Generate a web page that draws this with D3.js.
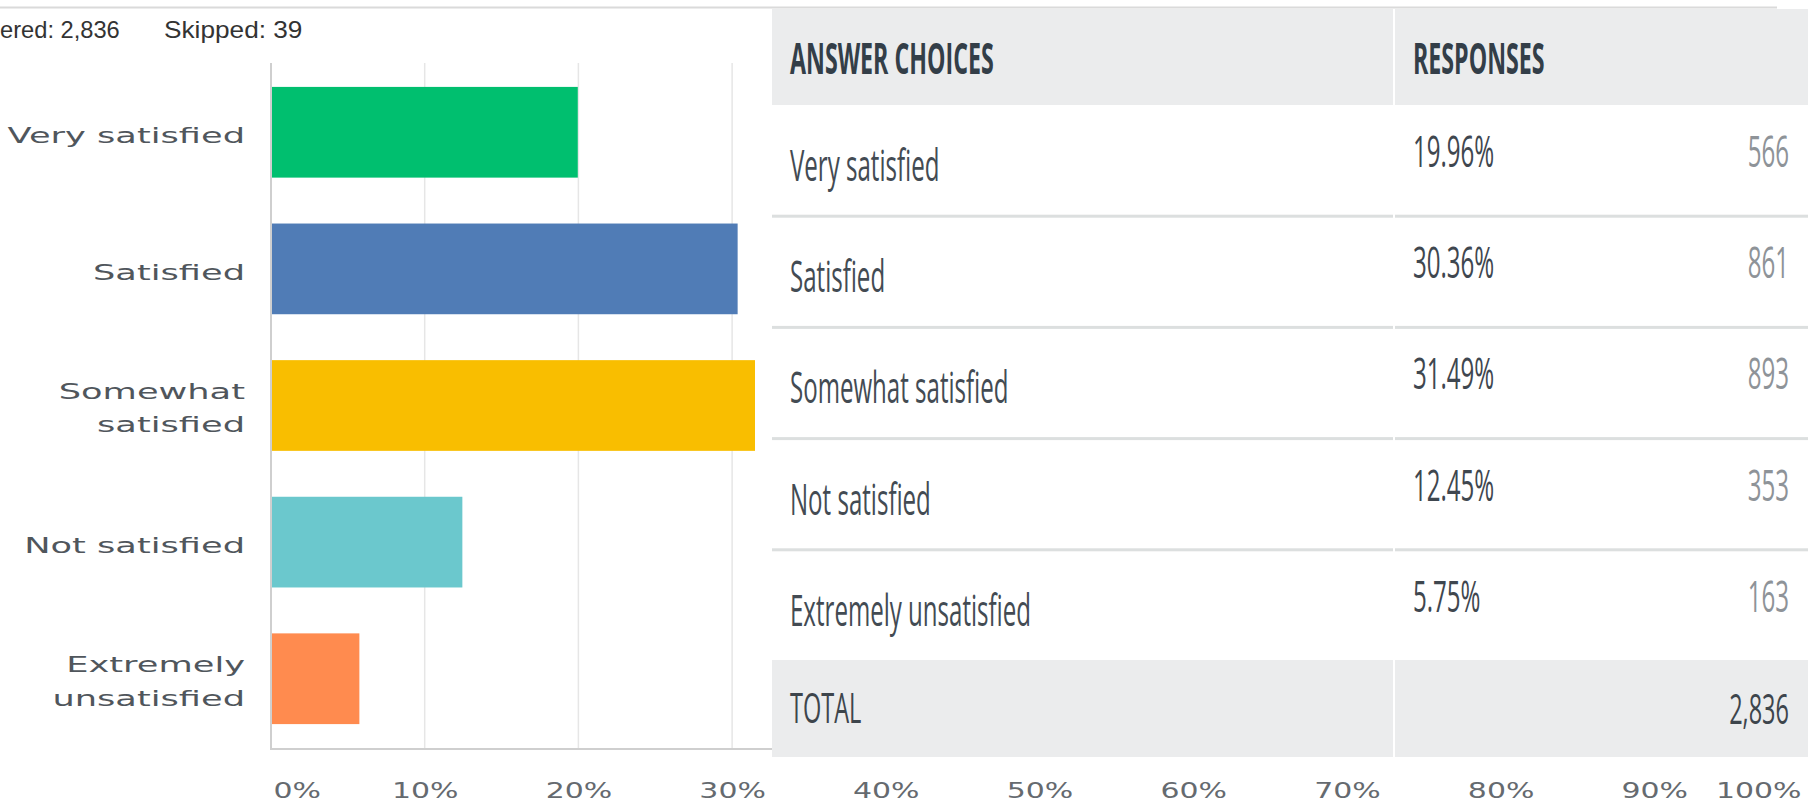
<!DOCTYPE html>
<html>
<head>
<meta charset="utf-8">
<script src="https://cdn.jsdelivr.net/npm/d3@7"></script>
<style>
  html, body { margin: 0; padding: 0; background: #ffffff; overflow: hidden; }
  svg { display: block; }
</style>
</head>
<body>
<svg id="chart" width="1808" height="804"></svg>
<script>
// ---- data ----
const categories = ["Very satisfied", "Satisfied", "Somewhat satisfied", "Not satisfied", "Extremely unsatisfied"];
const categoryLines = [["Very satisfied"], ["Satisfied"], ["Somewhat", "satisfied"], ["Not satisfied"], ["Extremely", "unsatisfied"]];
const percents = [19.96, 30.36, 31.49, 12.45, 5.75];
const counts = [566, 861, 893, 353, 163];
const barColors = ["#00bf6f", "#507cb6", "#f9be00", "#6bc8cd", "#ff8b4f"];
const xTicks = [0, 10, 20, 30, 40, 50, 60, 70, 80, 90, 100];
const answeredText = "ered: 2,836";
const skippedText = "Skipped: 39";
const tableHeaders = ["ANSWER CHOICES", "RESPONSES"];
const totalLabel = "TOTAL";
const totalValue = 2836;

// ---- layout ----
const svg = d3.select("#chart");
const plot = { left: 271, right: 1808, top: 63, bottom: 749 };

const x = d3.scaleLinear().domain([0, 100]).range([plot.left, plot.right]);
const y = d3.scaleBand().domain(categories).range([plot.top, plot.bottom - 1])
  .paddingInner(0.336).paddingOuter(0.175);

// top rule
svg.append("line").attr("x1", 0).attr("x2", 1777).attr("y1", 7.5).attr("y2", 7.5)
  .attr("stroke", "#dadada").attr("stroke-width", 2);

// header texts
const hdr = svg.append("g").attr("font-family", "'Liberation Sans', Arial, sans-serif")
  .attr("font-size", 23).attr("fill", "#333333");
hdr.append("text").attr("transform", "translate(0,38) scale(1.03,1)").text(answeredText);
hdr.append("text").attr("transform", "translate(164,38) scale(1.14,1)").text(skippedText);

// gridlines
svg.append("g").selectAll("line").data(xTicks.filter(d => d > 0)).join("line")
  .attr("x1", d => x(d)).attr("x2", d => x(d))
  .attr("y1", plot.top).attr("y2", plot.bottom)
  .attr("stroke", "#e6e6e6").attr("stroke-width", 1.5);

// bars
svg.append("g").selectAll("rect").data(categories).join("rect")
  .attr("x", x(0))
  .attr("y", d => y(d))
  .attr("width", (d, i) => x(percents[i]) - x(0))
  .attr("height", y.bandwidth())
  .attr("fill", (d, i) => barColors[i]);

// axes lines
svg.append("line").attr("x1", plot.left).attr("x2", plot.left)
  .attr("y1", plot.top).attr("y2", plot.bottom + 1)
  .attr("stroke", "#cfcfcf").attr("stroke-width", 2);
svg.append("line").attr("x1", plot.left).attr("x2", plot.right)
  .attr("y1", plot.bottom).attr("y2", plot.bottom)
  .attr("stroke", "#cfcfcf").attr("stroke-width", 2);

// category labels
const catG = svg.append("g").attr("font-family", "'DejaVu Sans', sans-serif")
  .attr("font-size", 22).attr("fill", "#50565c");
categories.forEach((c, i) => {
  const cy = y(c) + y.bandwidth() / 2;
  const lines = categoryLines[i];
  const t = catG.append("text")
    .attr("transform", `translate(245,${cy}) scale(1.6,1)`)
    .attr("text-anchor", "end");
  if (lines.length === 1) {
    t.append("tspan").attr("x", 0).attr("y", 11).text(lines[0]);
  } else {
    t.append("tspan").attr("x", 0).attr("y", -7).text(lines[0]);
    t.append("tspan").attr("x", 0).attr("y", 27).text(lines[1]);
  }
});

// x tick labels via axis
const xAxis = d3.axisBottom(x).tickValues(xTicks).tickFormat(d => d + "%").tickSize(0);
const axG = svg.append("g").attr("transform", `translate(0,${plot.bottom})`).call(xAxis);
axG.select(".domain").remove();
axG.selectAll(".tick text")
  .attr("font-family", "'DejaVu Sans', sans-serif")
  .attr("font-size", 22)
  .attr("fill", "#656a6f")
  .attr("dy", null)
  .attr("y", 0)
  .attr("transform", "translate(0,49) scale(1.36,1)")
  .attr("text-anchor", d => d === 0 ? "start" : (d === 100 ? "end" : "middle"))
  .attr("x", d => d === 0 ? 2 / 1.36 : (d === 100 ? -7 / 1.36 : 0));

// ---- table overlay ----
const tb = { left: 772, right: 1808, top: 9, headerBottom: 105, rowH: 111.2, totalTop: 660, bottom: 757, colX: 1394 };
const tg = svg.append("g");
tg.append("rect").attr("x", tb.left).attr("y", tb.top).attr("width", tb.right - tb.left)
  .attr("height", tb.bottom - tb.top).attr("fill", "#ffffff");
tg.append("rect").attr("x", tb.left).attr("y", tb.top).attr("width", tb.right - tb.left)
  .attr("height", tb.headerBottom - tb.top).attr("fill", "#ebeced");
tg.append("rect").attr("x", tb.left).attr("y", tb.totalTop).attr("width", tb.right - tb.left)
  .attr("height", tb.bottom - tb.totalTop).attr("fill", "#ebeced");
[[tb.top, tb.headerBottom], [tb.totalTop, tb.bottom]].forEach(([a, b]) => {
  tg.append("line").attr("x1", tb.colX).attr("x2", tb.colX).attr("y1", a).attr("y2", b)
    .attr("stroke", "#ffffff").attr("stroke-width", 2);
});

const rowTop = i => tb.headerBottom + i * tb.rowH;
d3.range(1, categories.length).forEach(i => {
  const yy = rowTop(i);
  tg.append("rect").attr("x", tb.left).attr("y", yy - 1.5).attr("width", tb.colX - 1 - tb.left)
    .attr("height", 3).attr("fill", "#dcdfdf");
  tg.append("rect").attr("x", tb.colX + 1).attr("y", yy - 1.5).attr("width", tb.right - tb.colX - 1)
    .attr("height", 3).attr("fill", "#dcdfdf");
});

const tf = "'Open Sans', 'Noto Sans', sans-serif";
tg.selectAll("text.hdr").data(tableHeaders).join("text").attr("class", "hdr")
  .attr("transform", (d, i) => `translate(${i === 0 ? 790 : 1413},74) scale(0.54,1)`)
  .attr("font-family", tf).attr("font-weight", 700).attr("font-size", 43)
  .attr("fill", "#333e48").text(d => d);

categories.forEach((c, i) => {
  const t0 = rowTop(i);
  tg.append("text").attr("transform", `translate(790,${t0 + 76}) scale(0.56,1)`)
    .attr("font-family", tf).attr("font-size", 43).attr("fill", "#434b53").text(c);
  tg.append("text").attr("transform", `translate(1413,${t0 + 62}) scale(0.56,1)`)
    .attr("font-family", tf).attr("font-size", 43).attr("fill", "#3f474f")
    .text(percents[i].toFixed(2) + "%");
  tg.append("text").attr("transform", `translate(1789,${t0 + 62}) scale(0.56,1)`)
    .attr("text-anchor", "end")
    .attr("font-family", tf).attr("font-size", 43).attr("fill", "#8e9398")
    .text(counts[i]);
});

tg.append("text").attr("transform", `translate(790,723) scale(0.56,1)`)
  .attr("font-family", tf).attr("font-size", 42).attr("fill", "#3d454c").text(totalLabel);
tg.append("text").attr("transform", `translate(1789,724) scale(0.56,1)`)
  .attr("text-anchor", "end")
  .attr("font-family", tf).attr("font-size", 42).attr("fill", "#3d454c")
  .text(d3.format(",")(totalValue));
</script>
</body>
</html>
